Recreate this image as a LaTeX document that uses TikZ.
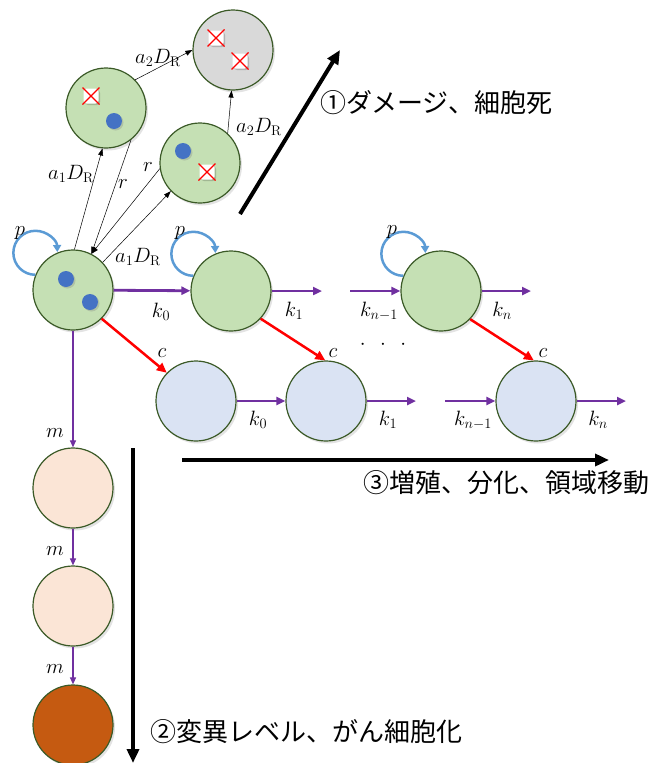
\documentclass[tikz,border=0pt]{standalone}
\usepackage{fontspec}
\newfontfamily\jpfont{Noto Sans CJK JP}
\usetikzlibrary{arrows.meta,shadows}

\definecolor{cellgreen}{HTML}{C5E0B4}
\definecolor{cellblue}{HTML}{DAE3F3}
\definecolor{cellpeach}{HTML}{FBE5D6}
\definecolor{cellcancer}{HTML}{C55A11}
\definecolor{cellgray}{HTML}{D9D9D9}
\definecolor{rim}{HTML}{3B5A27}
\definecolor{dotblue}{HTML}{4472C4}
\definecolor{flow}{HTML}{7030A0}
\definecolor{loopblue}{HTML}{5B9BD5}

\tikzset{
  cell/.style={circle, minimum size=80pt, inner sep=0pt, draw=rim, line width=1.2pt,
    drop shadow={shadow xshift=2pt, shadow yshift=-2.5pt, opacity=0.22}},
  greencell/.style={cell, fill=cellgreen},
  bluecell/.style={cell, fill=cellblue},
  peachcell/.style={cell, fill=cellpeach},
  cancercell/.style={cell, fill=cellcancer},
  deadcell/.style={cell, fill=cellgray},
  nucleus/.style={circle, fill=dotblue, minimum size=16pt, inner sep=0pt,
    drop shadow={shadow xshift=1.5pt, shadow yshift=-1.5pt, opacity=0.3}},
  lesion/.pic={
    \fill[black, opacity=0.18, rounded corners=3pt] (-6,-9) rectangle (9,6);
    \fill[white, rounded corners=3pt] (-7.5,-7.5) rectangle (7.5,7.5);
    \draw[red, line width=1.4pt] (-8.5,-8.5) -- (8.5,8.5) (-8.5,8.5) -- (8.5,-8.5);
  },
  flowthick/.style={draw=flow, line width=2.8pt, -{Triangle[length=9pt,width=8pt]}},
  flowthin/.style={draw=flow, line width=1.1pt, -{Triangle[length=7pt,width=6pt]}},
  diffarrow/.style={draw=red, line width=2.5pt, -{Triangle[length=10pt,width=9pt]}},
  dmg/.style={draw=black, line width=0.5pt, -{Triangle[length=7pt,width=5pt]}},
  axisarrow/.style={draw=black, line width=4pt, -{Triangle[length=14pt,width=12pt]}},
  selfloop/.style={draw=loopblue, line width=2.5pt, -{Triangle[length=7pt,width=8pt]}},
  lab/.style={font=\fontsize{20}{23}\selectfont, inner sep=1pt},
  jptext/.style={font=\jpfont\fontsize{26}{30}\selectfont, inner sep=0pt},
}

\begin{document}
\begin{tikzpicture}[x=1pt, y=1pt]
\useasboundingbox (0,0) rectangle (651,-763);

% damaged and dead cells
\node[greencell] (B) at (106,-108) {};
\node[greencell] (C) at (200,-163) {};
\node[deadcell]  (D) at (233,-50) {};

% stem cell row
\node[greencell] (A)  at (73,-290) {};
\node[greencell] (A1) at (231,-291) {};
\node[greencell] (An) at (441,-291) {};

% differentiated row
\node[bluecell] (B0) at (196,-401) {};
\node[bluecell] (B1) at (326,-401) {};
\node[bluecell] (Bn) at (536,-401) {};

% mutation column
\node[peachcell]  (M1) at (73,-488) {};
\node[peachcell]  (M2) at (73,-606) {};
\node[cancercell] (M3) at (73,-725) {};

% nuclei and lesions
\node[nucleus] (nA1) at (66,-279) {};
\node[nucleus] (nA2) at (90,-302) {};
\node[nucleus] (nB)  at (114,-121) {};
\node[nucleus] (nC)  at (183,-151) {};
\pic at (91,-96) {lesion};
\pic at (207,-172) {lesion};
\pic at (216,-38) {lesion};
\pic at (240,-61) {lesion};

% damage and repair
\draw[dmg] (A.88) -- (B.265);
\draw[dmg] (B.-52) -- (A.63);
\draw[dmg] (C.188) -- (A.63);
\draw[dmg] (A.43) -- (C.224);
\draw[dmg] (B.44) -- (D.180);
\draw[dmg] (C.47) -- (D.268);
\node[lab] (lA1) at (71,-174) {$a_1D_{\mathrm{R}}$};
\node[lab] (lr1) at (123,-184) {$r$};
\node[lab] (lr2) at (148,-167) {$r$};
\node[lab] (lA2) at (138,-257) {$a_1D_{\mathrm{R}}$};
\node[lab] (lD1) at (158,-58) {$a_2D_{\mathrm{R}}$};
\node[lab] (lD2) at (259,-127) {$a_2D_{\mathrm{R}}$};

% self renewal loops
\draw[selfloop] (A.158) arc[start angle=270, end angle=2, radius=22];
\draw[selfloop] (A1.158) arc[start angle=270, end angle=2, radius=22];
\draw[selfloop] (An.158) arc[start angle=270, end angle=2, radius=22];
\node[lab] (pA)  at (20,-233) {$p$};
\node[lab] (pA1) at (180,-233) {$p$};
\node[lab] (pAn) at (392,-232) {$p$};

% stem cell transitions
\coordinate (A1out) at (322,-291);
\coordinate (Anin)  at (350,-291);
\coordinate (Anout) at (531,-291);
\draw[flowthick] (A) -- (A1);
\draw[flowthick] (A1) -- (A1out);
\draw[flowthick] (Anin) -- (An);
\draw[flowthick] (An) -- (Anout);
\node[lab] (k0) at (161,-312) {$k_0$};
\node[lab] (k1) at (294,-311) {$k_1$};
\node[lab] (kn1) at (379,-311) {$k_{n-1}$};
\node[lab] (kn) at (502,-311) {$k_n$};

% differentiation
\draw[diffarrow] (A.-45) -- (B0.136);
\draw[diffarrow] (A1.-43) -- (B1.91);
\draw[diffarrow] (An.-44) -- (Bn.93);
\node[lab] (c0) at (162,-353) {$c$};
\node[lab] (c1) at (333,-353) {$c$};
\node[lab] (cn) at (543,-353) {$c$};
\node[lab] (dots) at (383,-345) {$\cdot\hspace{10pt}\cdot\hspace{10pt}\cdot$};

% differentiated transitions
\coordinate (B1out) at (416,-401);
\coordinate (Bnin)  at (445,-401);
\coordinate (Bnout) at (626,-401);
\draw[flowthick] (B0) -- (B1);
\draw[flowthick] (B1) -- (B1out);
\draw[flowthick] (Bnin) -- (Bn);
\draw[flowthick] (Bn) -- (Bnout);
\node[lab] (bk0) at (258,-420) {$k_0$};
\node[lab] (bk1) at (388,-420) {$k_1$};
\node[lab] (bkn1) at (473,-420) {$k_{n-1}$};
\node[lab] (bkn) at (598,-420) {$k_n$};

% mutation steps
\draw[flowthin] (A) -- (M1);
\draw[flowthin] (M1) -- (M2);
\draw[flowthin] (M2) -- (M3);
\node[lab] (m1) at (55,-433) {$m$};
\node[lab] (m2) at (55,-551) {$m$};
\node[lab] (m3) at (55,-669) {$m$};

% summary axes
\coordinate (ax1s) at (240,-214);
\coordinate (ax1e) at (340,-50);
\coordinate (ax2s) at (133,-448);
\coordinate (ax2e) at (133,-763);
\coordinate (ax3s) at (182,-460);
\coordinate (ax3e) at (609,-460);
\draw[axisarrow] (ax1s) -- (ax1e);
\draw[axisarrow] (ax2s) -- (ax2e);
\draw[axisarrow] (ax3s) -- (ax3e);
\node[jptext, anchor=west] (t1) at (320,-103) {①ダメージ、細胞死};
\node[jptext, anchor=west] (t2) at (150,-732) {②変異レベル、がん細胞化};
\node[jptext, anchor=east] (t3) at (650,-483) {③増殖、分化、領域移動};
\end{tikzpicture}
\end{document}
